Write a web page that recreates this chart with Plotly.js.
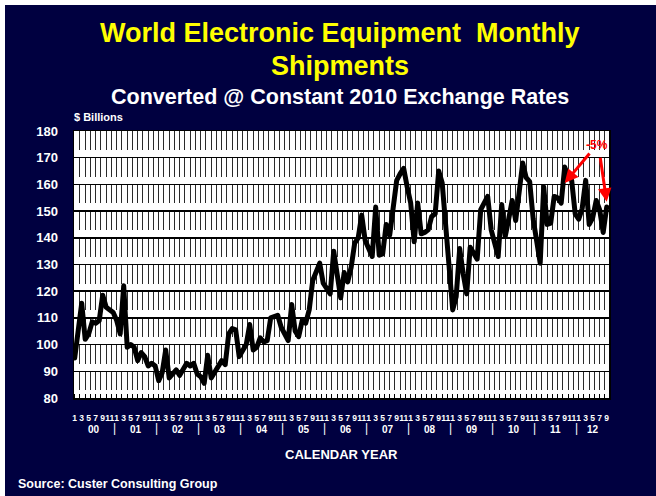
<!DOCTYPE html>
<html><head><meta charset="utf-8">
<script src="https://cdn.plot.ly/plotly-3.0.1.min.js"></script>
<style>
html,body{margin:0;padding:0;background:#fff;}
#chart{position:absolute;left:5px;top:5px;width:651px;height:491px;}
.js-line{stroke-linejoin:round;stroke-linecap:round;}
</style></head><body><div id="chart"></div>
<script>
// Years shown on the axis (2000..2012)
const years = ['00','01','02','03','04','05','06','07','08','09','10','11','12'];
// Odd-month tick labels
const monthLabels = ['1','3','5','7','9','11'];
const monthNumbers = [1,3,5,7,9,11];
// Monthly shipments, $ billions, Jan 2000 .. Sep 2012
const shipments = [
  // 2000
  95, 104, 115.5, 102, 104, 108.5, 108, 109, 118.5, 114, 113, 112,
  // 2001
  109, 104, 122, 99, 100, 99, 94, 97, 95.5, 92, 93, 92,
  // 2002
  86.5, 89.5, 98, 87.5, 89, 90.5, 88.5, 91, 93, 92, 93, 89,
  // 2003
  88, 85.5, 96, 87.5, 90, 91.5, 94, 92.5, 104, 106, 105.5, 95.5,
  // 2004
  98, 100, 107.5, 98, 99, 102.5, 101, 101.5, 110, 110.5, 111, 106.5,
  // 2005
  104, 101.5, 115, 105, 103, 109, 108, 113, 124, 127, 130.5, 123,
  // 2006
  121, 119, 135, 125, 117.5, 127, 123.5, 129, 138, 140, 148.5, 139,
  // 2007
  135.5, 133, 151.5, 133.5, 134, 145, 141, 153, 161.5, 164, 166, 159,
  // 2008
  153, 138.5, 153, 141.5, 142, 143, 148, 149, 165, 160.5, 143, 128,
  // 2009
  113, 118, 136, 126.5, 119, 136.5, 134, 132, 150.5, 153, 155.5, 143,
  // 2010
  137, 133, 152.5, 140.5, 147, 154, 146.5, 156, 168, 162.5, 161, 147,
  // 2011
  138, 130.5, 159, 145, 145.5, 155.5, 155, 153, 166.5, 163, 161.5, 149,
  // 2012
  147, 151, 161.5, 145, 147.5, 154, 150.5, 142, 151.5
];

const monthIndex = shipments.map((_, i) => i);
const tickvals = [], ticktext = [];
years.forEach((yr, y) => {
  monthNumbers.forEach((m, k) => {
    const idx = y * 12 + m - 1;
    if (idx < shipments.length) { tickvals.push(idx); ticktext.push(monthLabels[k]); }
  });
});

const FONT = 'Liberation Sans, Arial, sans-serif';
const NAVY = '#000040';
const PLOT_H = 267, PLOT_W = 535;
const py = (pageY) => (398 - pageY) / PLOT_H;
const px = (pageX) => (pageX - 74) / PLOT_W;

const annotations = [
  {text: 'World Electronic Equipment\u00a0\u00a0Monthly', x: 0.497, y: py(33), font: {size: 27, color: '#ffff00', weight: 'bold'}},
  {text: 'Shipments', x: 0.497, y: py(66), font: {size: 27, color: '#ffff00', weight: 'bold'}},
  {text: 'Converted @ Constant 2010 Exchange Rates', x: 0.497, y: py(97), font: {size: 21.5, color: '#ffffff', weight: 'bold'}},
  {text: '$ Billions', x: px(72), xanchor: 'left', y: py(117), font: {size: 11, color: '#ffffff', weight: 'bold'}},
  {text: 'CALENDAR YEAR', x: 0.5, y: py(454), font: {size: 13, color: '#ffffff', weight: 'bold'}},
  {text: 'Source: Custer Consulting Group', x: px(16), xanchor: 'left', y: py(484), font: {size: 12.5, color: '#ffffff', weight: 'bold'}}
].map(a => Object.assign({xref: 'paper', yref: 'paper', showarrow: false, yanchor: 'middle', xanchor: a.xanchor || 'center'}, a));

years.forEach((yr, y) => {
  const first = y * 12;
  const last = Math.min(first + 11, shipments.length - 1);
  annotations.push({text: yr, xref: 'x', yref: 'paper', x: (first + last) / 2, y: py(429), showarrow: false,
    yanchor: 'middle', font: {size: 10, color: '#ffffff', weight: 'bold'}});
  if (y > 0) {
    annotations.push({text: '|', xref: 'x', yref: 'paper', x: first - 0.5, y: py(428), showarrow: false,
      yanchor: 'middle', font: {size: 12, color: '#ffffff'}});
  }
});

// "-5%" callout with two arrows
annotations.push({text: '-5%', xref: 'x', yref: 'y', x: 140, y: 160.5, ax: 32, ay: -38,
  showarrow: true, arrowcolor: '#ff0000', arrowwidth: 3, arrowhead: 2, arrowsize: 0.9,
  font: {size: 12, color: '#ff0000', weight: 'bold'}});
annotations.push({text: ' ', xref: 'x', yref: 'y', x: 152, y: 153.5, ax: -7, ay: -48,
  showarrow: true, arrowcolor: '#ff0000', arrowwidth: 3, arrowhead: 2, arrowsize: 0.9,
  font: {size: 4, color: '#ff0000'}});

const data = [{
  x: monthIndex, y: shipments, type: 'scatter', mode: 'lines',
  line: {color: '#000000', width: 5}, hoverinfo: 'skip'
}];

const layout = {
  width: 651, height: 491,
  paper_bgcolor: NAVY, plot_bgcolor: '#ffffff',
  margin: {l: 69, r: 47, t: 126, b: 98, pad: 0},
  showlegend: false,
  font: {family: FONT, color: '#ffffff'},
  xaxis: {
    range: [-0.2, 152.66], tickvals: tickvals, ticktext: ticktext, tickangle: 0,
    showgrid: false, zeroline: false, ticks: '', ticklabelstandoff: 11,
    tickfont: {size: 8.5, color: '#ffffff', weight: 'bold', family: FONT},
    showline: true, mirror: true, linecolor: '#000000', linewidth: 1.5,
    minor: {dtick: 1.5, tick0: 0, showgrid: true, gridcolor: '#2a2a2a', gridwidth: 1,
            griddash: '19px,7.7px', ticks: 'inside', ticklen: 4, tickcolor: '#000000', tickwidth: 1}
  },
  yaxis: {
    range: [80, 180], tick0: 80, dtick: 10, showgrid: true, gridcolor: '#000000', gridwidth: 1.5,
    zeroline: false, showline: true, mirror: true, linecolor: '#000000', linewidth: 1.5,
    ticks: '', ticklabelstandoff: 12,
    tickfont: {size: 13, color: '#ffffff', weight: 'bold', family: FONT}
  },
  annotations: annotations
};

Plotly.newPlot('chart', data, layout, {staticPlot: true, displayModeBar: false});
</script>
</body></html>
